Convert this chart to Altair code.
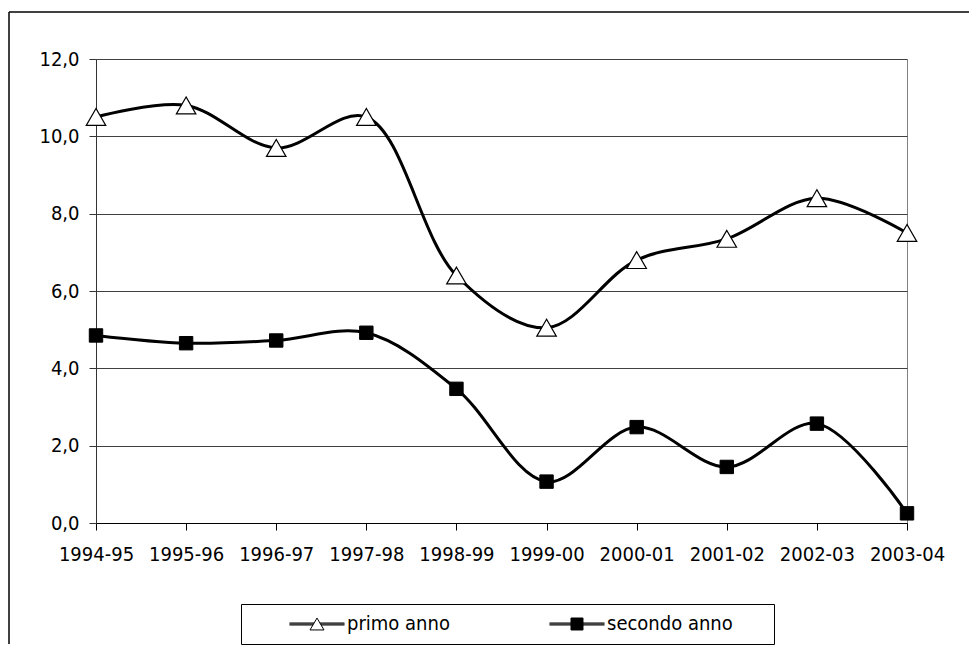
import altair as alt
import pandas as pd

# ---- data ----
anni = ["1994-95", "1995-96", "1996-97", "1997-98", "1998-99",
        "1999-00", "2000-01", "2001-02", "2002-03", "2003-04"]
primo_anno = [10.5, 10.8, 9.7, 10.5, 6.4, 5.05, 6.8, 7.35, 8.4, 7.5]
secondo_anno = [4.85, 4.65, 4.72, 4.92, 3.47, 1.07, 2.48, 1.45, 2.57, 0.25]
serie = ["primo anno", "secondo anno"]
y_ticks = [0, 2, 4, 6, 8, 10, 12]

df = pd.DataFrame({
    "anno": anni * 2,
    "valore": primo_anno + secondo_anno,
    "serie": [serie[0]] * len(anni) + [serie[1]] * len(anni),
})
frame_df = pd.DataFrame({"k": [0]})

FONT = "DejaVu Sans Condensed, Liberation Sans, sans-serif"
FS = 20

x = alt.X("anno:O", scale=alt.Scale(type="point", padding=0, domain=anni),
          axis=alt.Axis(title=None, labelAngle=0, tickSize=7, labelPadding=14,
                        domainColor="black", tickColor="black", grid=False,
                        labelFont=FONT, labelFontSize=FS, labelColor="black"))
y = alt.Y("valore:Q", scale=alt.Scale(domain=[0, 12], nice=False),
          axis=alt.Axis(title=None, values=y_ticks, grid=True, gridColor="#404040",
                        labelExpr="replace(format(datum.value, '.1f'), '.', ',')",
                        tickSize=7, labelPadding=10, domainColor="#333", tickColor="#333",
                        labelFont=FONT, labelFontSize=FS, labelColor="black"))

base = alt.Chart(df)

lines = base.mark_line(interpolate="catmull-rom", color="black", strokeWidth=3).encode(
    x=x, y=y, detail="serie:N")

tri = base.transform_filter(alt.datum.serie == serie[0]).mark_point(
    shape="triangle-up", size=380, filled=True, fill="white", stroke="black",
    strokeWidth=1.2, opacity=1).encode(x=x, y=y)

sq = base.transform_filter(alt.datum.serie == serie[1]).mark_point(
    shape="square", size=180, filled=True, fill="black", stroke="black",
    strokeWidth=1, opacity=1).encode(x=x, y=y)

# legend symbols: line + marker drawn as custom paths (unit = 7px)
tri_path = ("M-3.93,-0.143H-0.416M-3.93,0H-0.5M-3.93,0.143H-0.584"
            "M0.416,-0.143H3.93M0.5,0H3.93M0.584,0.143H3.93"
            "M0,-0.85L1,0.85L-1,0.85Z")
sq_path = ("M-3.93,-0.143H-0.857M-3.93,0H-0.857M-3.93,0.143H-0.857"
           "M0.857,-0.143H3.93M0.857,0H3.93M0.857,0.143H3.93"
           "M-0.857,-0.857H0.857V0.857H-0.857Z")

leg = alt.Legend(title="\u00a0", titleOrient="right", titlePadding=31, titleFontSize=8,
                 orient="none", legendX=145, legendY=545,
                 direction="horizontal", strokeColor="black", padding=10,
                 symbolSize=196, symbolStrokeWidth=1, symbolStrokeColor="black",
                 symbolOffset=56, labelOffset=20, columnPadding=61,
                 labelFont=FONT, labelFontSize=FS, labelColor="black")

legend_layer = base.transform_filter("false").mark_point(
    filled=True, stroke="black", strokeWidth=1, opacity=1).encode(
    x=x, y=y,
    shape=alt.Shape("serie:N", scale=alt.Scale(domain=serie, range=[tri_path, sq_path]), legend=leg),
    fill=alt.Fill("serie:N", scale=alt.Scale(domain=serie, range=["white", "black"]), legend=leg),
    stroke=alt.Stroke("serie:N", scale=alt.Scale(domain=serie, range=["black", "black"]), legend=leg),
)

frame_top = alt.Chart(frame_df).mark_rule(color="black", strokeWidth=1.5).encode(
    x=alt.value(-87), x2=alt.value(873), y=alt.value(-47))
frame_left = alt.Chart(frame_df).mark_rule(color="black", strokeWidth=1.5).encode(
    x=alt.value(-87), y=alt.value(-47), y2=alt.value(585))

chart = alt.layer(frame_top, frame_left, lines, tri, sq, legend_layer).properties(
    width=811, height=464,
    padding={"left": 0, "top": 3, "right": 0, "bottom": 0},
    background="white",
).configure_view(stroke="#808080", strokeWidth=1)

chart.save("out.html", embed_options={"renderer": "svg", "actions": False})
